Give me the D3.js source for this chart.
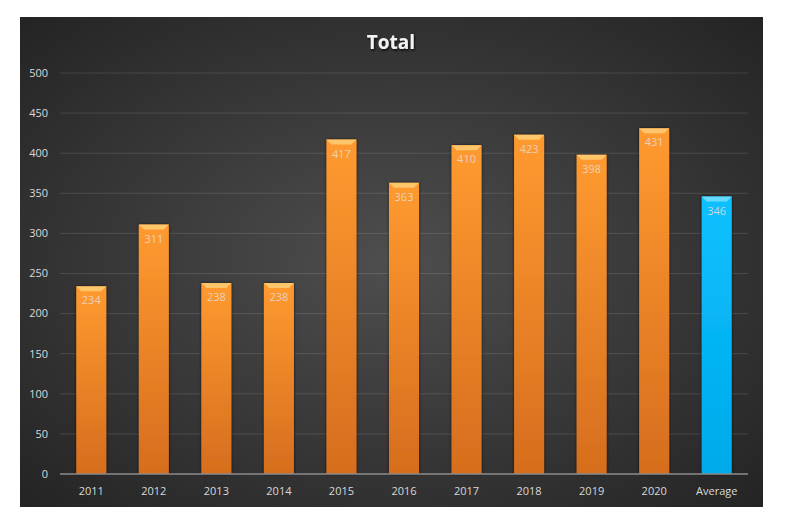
<!DOCTYPE html>
<html>
<head>
<meta charset="utf-8">
<script src="https://cdn.jsdelivr.net/npm/d3@7"></script>
<style>
  body { margin: 0; background: #fff; }
  text { font-family: "Open Sans", "Liberation Sans", sans-serif; }
</style>
</head>
<body>
<svg id="chart" width="786" height="529"></svg>
<script>
var categories = ["2011", "2012", "2013", "2014", "2015", "2016", "2017", "2018", "2019", "2020", "Average"];
var totals = [234, 311, 238, 238, 417, 363, 410, 423, 398, 431, 346];
var yTicks = [0, 50, 100, 150, 200, 250, 300, 350, 400, 450, 500];

var svg = d3.select("#chart");
var frame = {x: 20, y: 17, w: 743, h: 490};
var margin = {top: 73, left: 60, right: 786 - 748, bottom: 529 - 474};
var width = 786 - margin.left - margin.right,
    height = 529 - margin.top - margin.bottom;

var defs = svg.append("defs");

var bg = defs.append("radialGradient").attr("id", "bg")
    .attr("cx", "50%").attr("cy", "50%").attr("r", "70%");
bg.append("stop").attr("offset", "0%").attr("stop-color", "#4e4e4e");
bg.append("stop").attr("offset", "100%").attr("stop-color", "#242424");

function barGrad(id, top, bottom) {
    var g = defs.append("linearGradient").attr("id", id)
        .attr("x1", 0).attr("y1", 0).attr("x2", 0).attr("y2", 1);
    g.append("stop").attr("offset", "0%").attr("stop-color", top);
    g.append("stop").attr("offset", "100%").attr("stop-color", bottom);
}
barGrad("orange", "#ff9a30", "#d66d1e");
barGrad("blue", "#0cc0ff", "#00aaea");

var shadow = defs.append("filter").attr("id", "shadow")
    .attr("x", "-30%").attr("y", "-10%").attr("width", "160%").attr("height", "120%");
shadow.append("feDropShadow").attr("dx", 0).attr("dy", 0).attr("stdDeviation", 1.6)
    .attr("flood-color", "#000").attr("flood-opacity", 0.7);

var tshadow = defs.append("filter").attr("id", "tshadow");
tshadow.append("feDropShadow").attr("dx", 1).attr("dy", 1.5).attr("stdDeviation", 1)
    .attr("flood-color", "#000").attr("flood-opacity", 0.8);

svg.append("rect")
    .attr("x", frame.x).attr("y", frame.y)
    .attr("width", frame.w).attr("height", frame.h)
    .attr("fill", "url(#bg)");

var g = svg.append("g").attr("transform", "translate(" + margin.left + "," + margin.top + ")");

var x = d3.scaleBand().domain(categories).range([0, width]).paddingInner(0.52).paddingOuter(0.26);
var y = d3.scaleLinear().domain([0, 500]).range([height, 0]);

// grid
g.append("g").selectAll("line")
    .data(yTicks.slice(1))
    .enter().append("line")
    .attr("x1", 0).attr("x2", width)
    .attr("y1", function(d) { return y(d); })
    .attr("y2", function(d) { return y(d); })
    .attr("stroke", "#ffffff")
    .attr("stroke-opacity", 0.12)
    .attr("stroke-width", 1);

// y labels
g.append("g").selectAll("text")
    .data(yTicks)
    .enter().append("text")
    .attr("x", -12)
    .attr("y", function(d) { return y(d); })
    .attr("dy", "0.35em")
    .attr("text-anchor", "end")
    .attr("fill", "#d9d9d9")
    .style("font-size", "11px")
    .text(function(d) { return d; });

var bars = g.selectAll(".bar")
    .data(categories.map(function(c, i) { return {cat: c, value: totals[i]}; }))
    .enter().append("g")
    .attr("class", "bar");

bars.append("rect")
    .attr("x", function(d) { return x(d.cat); })
    .attr("y", function(d) { return y(d.value); })
    .attr("width", x.bandwidth())
    .attr("height", function(d) { return height - y(d.value); })
    .attr("fill", function(d) { return d.cat === "Average" ? "url(#blue)" : "url(#orange)"; })
    .attr("filter", "url(#shadow)");

// bevel on the top edge
bars.append("path")
    .attr("d", function(d) {
        var x0 = x(d.cat), x1 = x0 + x.bandwidth(), t = y(d.value), b = 5;
        return "M" + x0 + "," + t + "L" + x1 + "," + t + "L" + (x1 - b) + "," + (t + b) +
            "L" + (x0 + b) + "," + (t + b) + "Z";
    })
    .attr("fill", function(d) { return d.cat === "Average" ? "#7fe0ff" : "#ffcf78"; })
    .attr("opacity", 0.8);

bars.append("text")
    .attr("x", function(d) { return x(d.cat) + x.bandwidth() / 2; })
    .attr("y", function(d) { return y(d.value) + 18; })
    .attr("text-anchor", "middle")
    .attr("fill", "#e6ddd4")
    .attr("fill-opacity", 0.85)
    .style("font-size", "11px")
    .text(function(d) { return d.value; });

// baseline
g.append("line")
    .attr("x1", 0).attr("x2", width)
    .attr("y1", height).attr("y2", height)
    .attr("stroke", "#8c8c8c")
    .attr("stroke-width", 1.5);

// x labels
g.append("g").selectAll("text")
    .data(categories)
    .enter().append("text")
    .attr("x", function(d) { return x(d) + x.bandwidth() / 2; })
    .attr("y", height + 21)
    .attr("text-anchor", "middle")
    .attr("fill", "#d9d9d9")
    .style("font-size", "11px")
    .text(function(d) { return d; });

svg.append("text")
    .attr("x", 391)
    .attr("y", 49)
    .attr("text-anchor", "middle")
    .attr("fill", "#f2f2f2")
    .attr("filter", "url(#tshadow)")
    .style("font-size", "19px")
    .style("font-weight", "bold")
    .text("Total");
</script>
</body>
</html>
